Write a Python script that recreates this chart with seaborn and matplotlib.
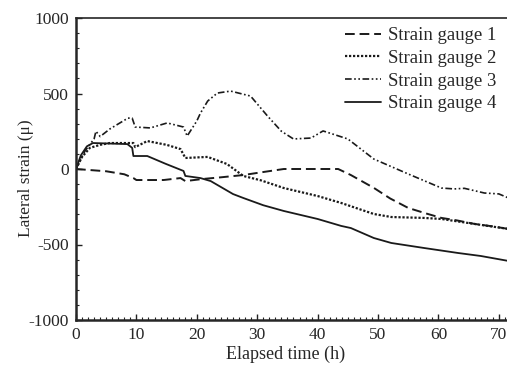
import matplotlib
matplotlib.use("Agg")
import matplotlib.pyplot as plt
import seaborn as sns
import pandas as pd
from matplotlib.ticker import MultipleLocator

# Data
g1_t = [0, 5, 8, 9.5, 10, 14.5, 17.3, 18.1, 21, 24, 27.7, 31, 34.4, 38, 43.4, 45.5, 49.3, 52, 55, 58, 60.5, 63, 66, 69, 71.6]
g1_v = [0, -15, -35, -60, -73, -73, -60, -80, -66, -55, -40, -20, 0, 0, 0, -40, -125, -195, -258, -295, -324, -340, -364, -380, -397]

g2_t = [0, 1, 2.3, 4, 5.6, 9.5, 9.8, 11.8, 15, 17.3, 18.1, 21.8, 25, 27.7, 30.6, 34.4, 40, 43.9, 49.3, 52.2, 57.6, 60.5, 66, 71.6]
g2_v = [0, 80, 140, 160, 172, 172, 145, 185, 160, 132, 73, 80, 33, -46, -75, -126, -179, -225, -298, -318, -324, -331, -364, -397]

g3_t = [0, 1.5, 3, 3.3, 4, 5.6, 8.6, 9.3, 9.8, 12.3, 15.1, 17.8, 18.4, 20, 20.6, 21.8, 23.4, 25.6, 28.9, 31.7, 34, 36, 38.9, 40.9, 45, 49.3, 55, 60.5, 62.6, 64.3, 67.6, 70, 71.6]
g3_v = [0, 120, 200, 250, 215, 265, 337, 337, 278, 272, 305, 278, 218, 318, 370, 450, 503, 516, 483, 351, 250, 199, 205, 252, 199, 66, -33, -126, -132, -128, -159, -165, -192]

g4_t = [0, 0.8, 1.8, 2.8, 8.5, 9.3, 9.5, 11.8, 14.8, 17.8, 18.1, 20.6, 22.3, 26, 27.7, 31, 34.4, 40, 43.9, 45.5, 49.3, 52.2, 57.6, 63.2, 67, 71.6]
g4_v = [0, 90, 150, 172, 165, 140, 86, 86, 35, -13, -46, -60, -80, -166, -192, -240, -278, -331, -377, -391, -457, -490, -523, -556, -576, -609]

labels = ["Strain gauge 1", "Strain gauge 2", "Strain gauge 3", "Strain gauge 4"]
x_ticks = [0, 10, 20, 30, 40, 50, 60, 70]
y_ticks = [-1000, -500, 0, 500, 1000]

sns.set_style("ticks")
plt.rcParams["font.family"] = ["Liberation Serif", "DejaVu Serif"]

fig = plt.figure(figsize=(5.07, 3.73), dpi=100)
ax = fig.add_axes([76 / 507, 53 / 373, 1.0 - 76 / 507 + 0.003, (320 - 18) / 373])

styles = [(0, (5, 2.5)), (0, (1, 0.8)), (0, (4, 1.5, 1, 1.5, 1, 1.5)), "-"]
widths = [1.4, 1.6, 1.2, 1.3]
series = [(g1_t, g1_v), (g2_t, g2_v), (g3_t, g3_v), (g4_t, g4_v)]
for (t, v), lab, ls, lw in zip(series, labels, styles, widths):
    df = pd.DataFrame({"t": t, "v": v})
    sns.lineplot(data=df, x="t", y="v", ax=ax, color="#1a1a1a", linestyle=ls,
                 linewidth=lw, label=lab, sort=False)

ax.set_xlim(0, 71.6)
ax.set_ylim(-1000, 1000)
ax.set_xticks(x_ticks)
ax.set_yticks(y_ticks)
ax.set_xticklabels([str(x) for x in x_ticks])
ax.set_yticklabels([str(y) for y in y_ticks])
ax.xaxis.set_minor_locator(MultipleLocator(1))
ax.yaxis.set_minor_locator(MultipleLocator(100))
ax.tick_params(which="both", direction="in", top=False, right=False, labelsize=12.5, color="#222222")
ax.tick_params(which="major", length=4, width=1, pad=5)
ax.tick_params(which="minor", length=2.5, width=0.8)
for s in ["left", "bottom"]:
    ax.spines[s].set_linewidth(1.8)
ax.spines["top"].set_linewidth(1.2)
ax.spines["right"].set_visible(False)
ax.set_xlabel("Elapsed time (h)", fontsize=13)
ax.set_ylabel("Lateral strain (μ)", fontsize=12.5)
ax.xaxis.set_label_coords(0.485, -0.085)
ax.yaxis.set_label_coords(-0.098, 0.47)

leg = ax.legend(loc="upper right", frameon=False, fontsize=13.5, handlelength=1.9,
                handletextpad=0.4, labelspacing=0.3, borderaxespad=0.0,
                bbox_to_anchor=(0.99, 0.995))

fig.savefig("out.png", dpi=100)
